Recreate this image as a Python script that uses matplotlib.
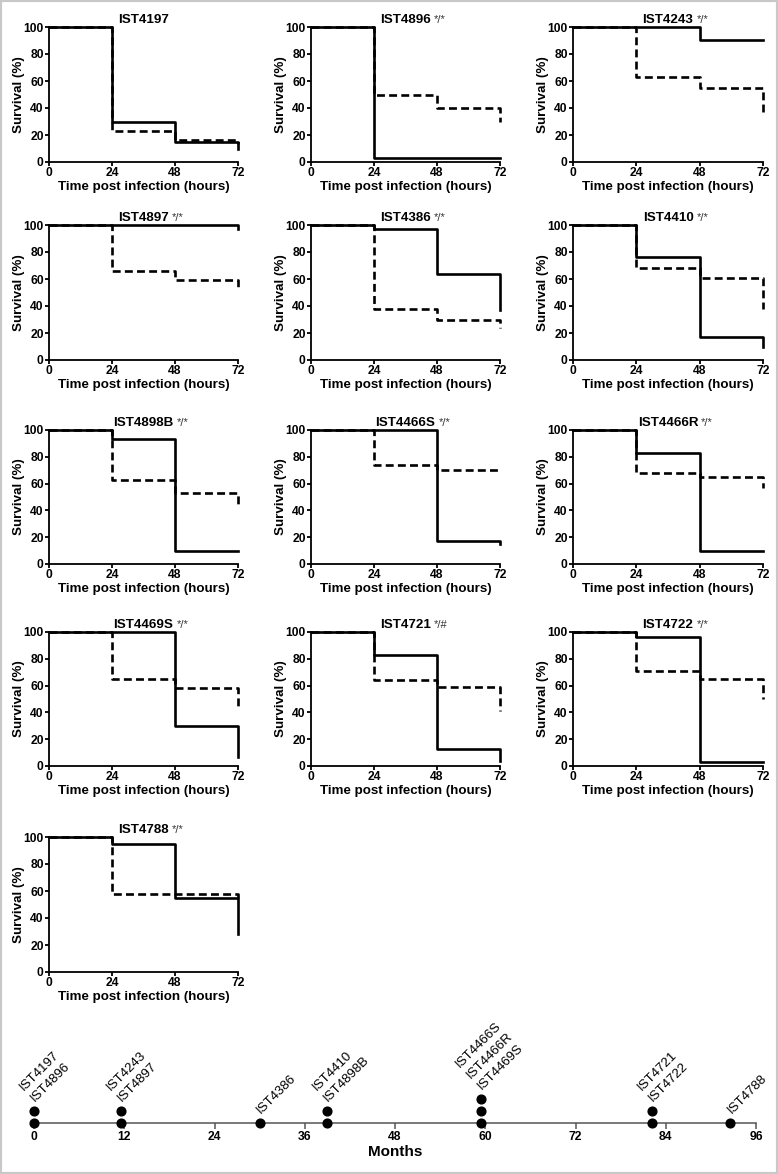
import matplotlib
matplotlib.use("Agg")
import matplotlib.pyplot as plt
from matplotlib.patches import Rectangle

plt.rcParams['font.family'] = ['Liberation Sans', 'DejaVu Sans']

W, H = 778, 1174

# survival data (% alive after 0, 24, 48 h and at end of 72 h)
hours = [0, 24, 48, 72]
strains = ["IST4197", "IST4896", "IST4243", "IST4897", "IST4386", "IST4410",
           "IST4898B", "IST4466S", "IST4466R", "IST4469S", "IST4721", "IST4722",
           "IST4788"]
signif = ["", "*/*", "*/*", "*/*", "*/*", "*/*",
          "*/*", "*/*", "*/*", "*/*", "*/#", "*/*", "*/*"]
solid = [[100, 30, 15, 10], [100, 3, 3, 3], [100, 100, 90, 90],
         [100, 100, 100, 97], [100, 97, 64, 37], [100, 76, 17, 10],
         [100, 93, 10, 10], [100, 100, 17, 15], [100, 83, 10, 10],
         [100, 100, 30, 7], [100, 83, 13, 4], [100, 96, 3, 3],
         [100, 95, 55, 28]]
dashed = [[100, 23, 16, 13], [100, 50, 40, 30], [100, 63, 55, 35],
          [100, 66, 59, 53], [100, 38, 30, 24], [100, 68, 61, 38],
          [100, 63, 53, 45], [100, 74, 70, 70], [100, 68, 65, 57],
          [100, 65, 58, 44], [100, 64, 59, 41], [100, 71, 65, 50],
          [100, 58, 58, 55]]

# isolation time line
iso_month = [0, 0, 11.6, 11.6, 30, 39, 39, 59.4, 59.4, 59.4, 82.2, 82.2, 92.6]
month_ticks = [0, 12, 24, 36, 48, 60, 72, 84, 96]


def rect(l, r, t, b):
    return [l / W, 1 - b / H, (r - l) / W, (b - t) / H]


fig = plt.figure(figsize=(W / 100, H / 100), dpi=100)
fig.patches.append(Rectangle((0, 0), 1, 1, transform=fig.transFigure,
                             fill=False, edgecolor='#c8c8c8', lw=3))

cols = [(49, 238), (311, 500), (573, 763)]
rows = [(27, 162), (225, 360), (430, 564), (632, 766), (837, 972)]

for i, name in enumerate(strains):
    l, r = cols[i % 3]
    t, b = rows[i // 3]
    ax = fig.add_axes(rect(l, r, t, b))
    ax.step(hours, solid[i], where='post', color='black', lw=1.9, clip_on=False)
    ax.step(hours, dashed[i], where='post', color='black', lw=1.9,
            linestyle=(0, (3, 1.6)), clip_on=False)
    ax.set_xlim(0, 72)
    ax.set_ylim(0, 100)
    ax.set_xticks([0, 24, 48, 72])
    ax.set_yticks([0, 20, 40, 60, 80, 100])
    for s in ['top', 'right']:
        ax.spines[s].set_visible(False)
    for s in ['left', 'bottom']:
        ax.spines[s].set_linewidth(1.3)
    ax.tick_params(width=1.3, length=2.8, labelsize=8.7, pad=1)
    for lab in ax.get_xticklabels() + ax.get_yticklabels():
        lab.set_fontweight('bold')
    ax.set_xlabel("Time post infection (hours)", fontsize=9.6,
                  fontweight='bold', labelpad=1)
    ax.set_ylabel("Survival (%)", fontsize=9.6, fontweight='bold', labelpad=-1)
    ttl = ax.set_title(name, fontsize=9.6, fontweight='bold', pad=3)
    if signif[i]:
        ax.annotate(signif[i], xy=(1, 1), xycoords=ttl, xytext=(3, -1),
                    textcoords='offset pixels', ha='left', va='top',
                    fontsize=8, color='#333333')

# time line of isolates
tl = fig.add_axes(rect(34, 756, 1003, 1123))
tl.set_xlim(0, 96)
tl.set_ylim(0, 10)
tl.set_xticks(month_ticks)
tl.set_yticks([])
for s in ['top', 'right', 'left']:
    tl.spines[s].set_visible(False)
tl.spines['bottom'].set_color('#555555')
tl.spines['bottom'].set_linewidth(1.1)
tl.tick_params(axis='x', color='#555555', width=1.1, length=4,
               labelsize=8.7, pad=2)
for lab in tl.get_xticklabels():
    lab.set_fontweight('bold')
tl.set_xlabel("Months", fontsize=11, fontweight='bold', labelpad=1)

groups = {}
for name, m in zip(strains, iso_month):
    groups.setdefault(m, []).append(name)
for m, names in groups.items():
    for k in range(len(names)):
        tl.plot(m, k, 'o', color='black', ms=6.3, clip_on=False, zorder=5)
    tl.annotate("\n".join(names), xy=(m, len(names) - 1), xytext=(3, 7),
                textcoords='offset pixels', rotation=45, rotation_mode='anchor',
                ha='left', va='bottom', fontsize=9.5, linespacing=1.4,
                annotation_clip=False)

fig.savefig("out.png", dpi=100)
